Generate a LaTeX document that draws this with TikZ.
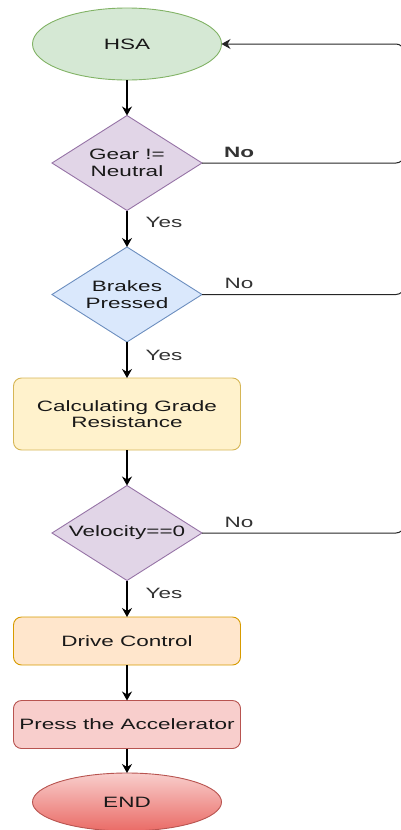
\documentclass[tikz,border=0pt]{standalone}
\usepackage{fontspec}
\setmainfont{Liberation Sans}[FakeStretch=1.5]
\usetikzlibrary{shapes.geometric,arrows.meta}

\definecolor{greenF}{HTML}{D5E8D4}\definecolor{greenD}{HTML}{82B366}
\definecolor{purpF}{HTML}{E1D5E7}\definecolor{purpD}{HTML}{9673A6}
\definecolor{blueF}{HTML}{DAE8FC}\definecolor{blueD}{HTML}{6C8EBF}
\definecolor{yellF}{HTML}{FFF2CC}\definecolor{yellD}{HTML}{D6B656}
\definecolor{oranF}{HTML}{FFE6CC}\definecolor{oranD}{HTML}{D79B00}
\definecolor{redF}{HTML}{F8CECC}\definecolor{redD}{HTML}{B85450}
\definecolor{redG}{HTML}{EA6B66}

\tikzset{
    base/.style={draw, line width=0.9pt, outer sep=0pt, align=center,
        text=black!90, font=\fontsize{15}{16.5}\selectfont},
    startstop/.style={base, ellipse, minimum width=189pt, minimum height=72pt, inner sep=0pt},
    decision/.style={base, diamond, aspect=1.58, minimum width=150pt,
        minimum height=95pt, inner sep=1pt},
    process/.style={base, rectangle, rounded corners=8pt, minimum width=227pt},
    flow/.style={-{Stealth[length=9pt,width=10pt,inset=3pt]}, line width=1.3pt},
    back/.style={line width=1pt, draw=black!85, rounded corners=8pt},
    lbl/.style={text=black!80, font=\fontsize{15}{16.5}\selectfont},
}

\begin{document}
\begin{tikzpicture}[x=1pt, y=-1pt]
    \useasboundingbox (0,0) rectangle (400,830);

    % Main column
    \node[startstop, fill=greenF, draw=greenD] (hsa) at (127,44) {HSA};
    \node[decision, fill=purpF, draw=purpD] (gear) at (127,163) {Gear !=\\Neutral};
    \node[decision, fill=blueF, draw=blueD] (brakes) at (127,294.5) {Brakes\\Pressed};
    \node[process, fill=yellF, draw=yellD, minimum height=72pt] (grade) at (127,414) {Calculating Grade\\Resistance};
    \node[decision, fill=purpF, draw=purpD] (vel) at (127,533) {Velocity==0};
    \node[process, fill=oranF, draw=oranD, minimum height=48pt] (drive) at (127,641) {Drive Control};
    \node[process, fill=redF, draw=redD, minimum height=48pt] (press) at (127,724.5) {Press the Accelerator};
    \node[startstop, top color=redF, bottom color=redG, draw=redD, minimum height=58pt] (stop) at (127,802) {END};

    \draw[flow] (hsa) -- (gear);
    \draw[flow] (gear) -- (brakes);
    \draw[flow] (brakes) -- (grade);
    \draw[flow] (grade) -- (vel);
    \draw[flow] (vel) -- (drive);
    \draw[flow] (drive) -- (press);
    \draw[flow] (press) -- (stop);

    % Yes / No labels
    \node[lbl] (yes1) at (164,222) {Yes};
    \node[lbl] (yes2) at (164,355) {Yes};
    \node[lbl] (yes3) at (164,593) {Yes};
    \node[lbl, font=\fontsize{15}{16.5}\selectfont\bfseries] (no1) at (239,152) {No};
    \node[lbl] (no2) at (239,283) {No};
    \node[lbl] (no3) at (239,522) {No};

    % Return path on the right
    \coordinate (topr) at (404,44);
    \coordinate (gearr) at (404,163);
    \coordinate (brakesr) at (404,294.5);
    \coordinate (velr) at (404,533);
    \draw[back, -{Stealth[length=9pt,width=10pt,inset=3pt]}] (vel.east) -- (velr) -- (topr) -- (hsa.east);
    \draw[back] (gear.east) -- (gearr) -- (topr);
    \draw[back] (brakes.east) -- (brakesr) -- (topr);
\end{tikzpicture}
\end{document}
